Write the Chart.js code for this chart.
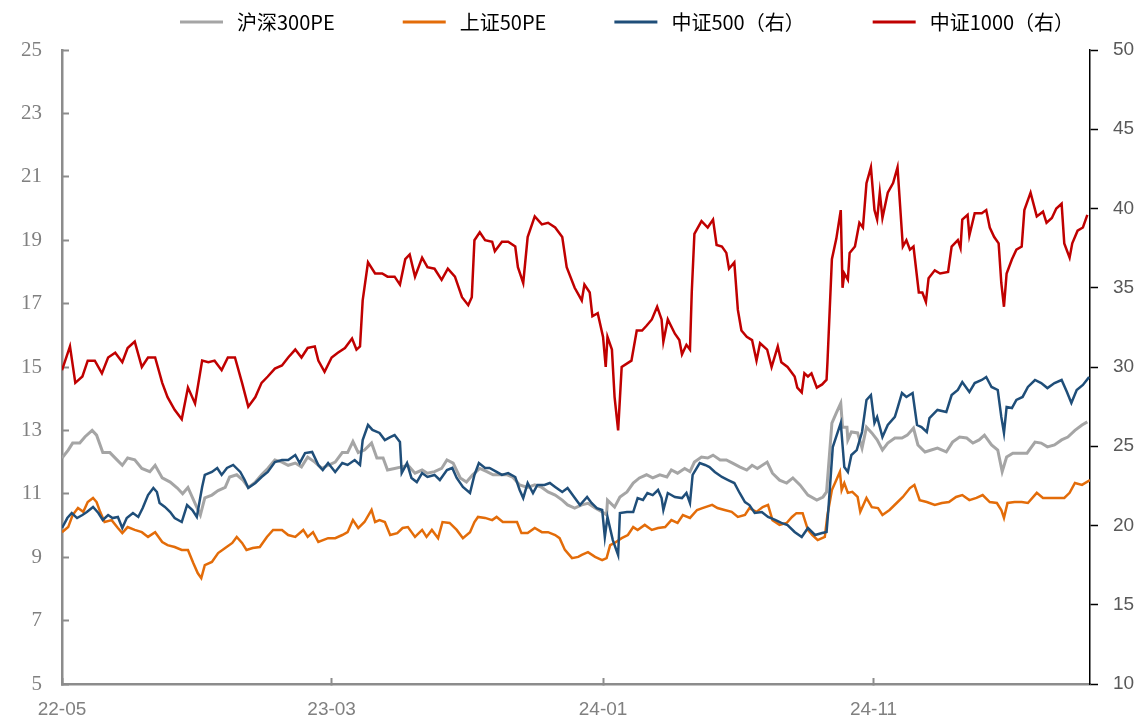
<!DOCTYPE html>
<html>
<head>
<meta charset="utf-8">
<title>PE</title>
<script src="https://cdn.jsdelivr.net/npm/chart.js@4.4.1/dist/chart.umd.min.js"></script>
<style>
  html, body { margin: 0; padding: 0; background: #fff; overflow: hidden; }
  #wrap { width: 1140px; height: 718px; }
  canvas { display: block; }
</style>
</head>
<body>
<div id="wrap"><canvas id="peChart" width="1140" height="718"></canvas></div>
<script>
// x values are days since 2022-05-01
const tickDays = [0, 304, 610, 915];
const tickLabels = ['22-05', '23-03', '24-01', '24-11'];

const seriesNames = ['沪深300PE', '上证50PE', '中证500（右）', '中证1000（右）'];

const hs300Day = [0,7,12,20,26,34,39,46,54,62,68,74,82,90,99,105,113,122,130,136,142,150,156,161,169,176,184,189,197,204,210,218,225,232,240,248,255,263,270,277,285,293,300,308,316,322,328,334,341,349,355,362,367,375,383,390,398,406,412,420,428,434,441,449,456,463,471,479,486,494,502,508,516,525,533,541,548,556,564,570,578,586,593,601,609,614,615,623,629,637,644,651,659,666,674,682,687,694,702,708,713,721,728,734,742,749,756,764,772,778,784,795,801,809,817,824,832,841,851,858,862,868,873,878,880,885,886,890,897,902,907,913,919,925,931,939,947,953,960,965,973,980,987,997,1004,1012,1020,1027,1034,1040,1048,1055,1060,1065,1072,1080,1088,1097,1104,1111,1119,1127,1134,1142,1150,1156];
const hs300PE = [12.13,12.38,12.6,12.6,12.8,13.0,12.85,12.3,12.3,12.07,11.9,12.13,12.07,11.8,11.7,11.9,11.5,11.37,11.18,11.0,11.2,10.7,10.33,10.87,10.96,11.1,11.2,11.53,11.6,11.43,11.2,11.37,11.6,11.8,12.07,12.0,11.9,11.97,11.85,12.16,12.0,11.8,11.9,12.0,12.3,12.3,12.65,12.3,12.38,12.6,12.13,12.13,11.75,11.8,11.85,11.9,11.65,11.75,11.65,11.7,11.8,12.07,11.97,11.5,11.37,11.6,11.8,11.7,11.6,11.6,11.6,11.53,11.28,11.2,11.28,11.2,11.06,10.96,10.8,10.65,10.55,10.65,10.7,10.55,10.43,10.33,10.8,10.58,10.9,11.06,11.34,11.5,11.6,11.5,11.6,11.53,11.75,11.65,11.8,11.7,12.0,12.16,12.13,12.22,12.07,12.07,11.97,11.85,11.75,11.9,11.8,12.0,11.65,11.43,11.34,11.5,11.28,10.96,10.8,10.9,11.06,13.23,13.55,13.86,13.1,13.1,12.7,12.95,12.92,12.44,13.1,12.92,12.7,12.38,12.6,12.76,12.76,12.85,13.07,12.54,12.32,12.38,12.44,12.32,12.63,12.79,12.76,12.6,12.7,12.85,12.54,12.38,11.7,12.16,12.28,12.28,12.28,12.63,12.6,12.48,12.54,12.7,12.79,13.0,13.17,13.27];

const sz50Day = [0,7,12,18,24,29,35,39,43,48,56,63,68,74,82,90,97,105,113,119,127,135,142,148,153,157,161,169,176,184,192,197,203,208,215,223,231,238,248,255,263,272,277,283,289,300,308,316,322,328,334,341,349,353,358,364,370,378,384,390,398,406,411,417,424,429,437,445,452,460,465,469,477,485,490,497,505,513,518,525,533,541,548,556,561,567,575,582,586,593,601,609,614,618,623,631,638,644,649,657,665,672,680,687,694,700,708,716,722,733,739,747,755,762,770,775,783,790,796,801,809,817,823,828,835,841,846,852,860,863,868,877,879,882,886,891,897,900,907,913,920,925,933,941,948,956,961,967,975,984,992,1000,1008,1015,1023,1031,1038,1046,1054,1059,1062,1066,1074,1082,1089,1099,1106,1113,1122,1130,1136,1142,1150,1159];
const sz50PE = [9.79,9.95,10.33,10.55,10.43,10.74,10.87,10.74,10.43,10.11,10.17,9.92,9.76,9.95,9.86,9.79,9.64,9.79,9.48,9.38,9.32,9.23,9.23,8.82,8.5,8.34,8.75,8.85,9.13,9.29,9.45,9.64,9.45,9.23,9.29,9.32,9.64,9.86,9.86,9.7,9.64,9.86,9.64,9.79,9.48,9.6,9.6,9.7,9.79,10.17,9.92,10.11,10.49,10.11,10.17,10.11,9.7,9.76,9.92,9.95,9.64,9.86,9.64,9.86,9.6,10.11,10.08,9.86,9.6,9.79,10.11,10.27,10.24,10.17,10.27,10.11,10.11,10.11,9.76,9.76,9.92,9.79,9.79,9.7,9.6,9.23,8.97,9.01,9.07,9.16,9.01,8.91,8.97,9.38,9.45,9.6,9.7,9.95,9.86,10.02,9.86,9.92,9.95,10.17,10.08,10.33,10.24,10.49,10.55,10.65,10.55,10.49,10.43,10.27,10.33,10.55,10.43,10.58,10.65,10.17,10.02,10.08,10.27,10.39,10.39,9.86,9.7,9.54,9.64,10.33,11.12,11.69,11.12,11.34,11.03,11.06,10.9,10.43,10.87,10.58,10.55,10.33,10.49,10.71,10.9,11.18,11.28,10.8,10.74,10.65,10.71,10.74,10.9,10.96,10.8,10.87,10.96,10.74,10.71,10.49,10.24,10.71,10.74,10.74,10.71,11.03,10.87,10.87,10.87,10.87,11.03,11.34,11.28,11.43];

const zz500Day = [0,6,11,17,23,28,35,41,46,52,57,63,68,73,80,86,91,97,103,107,110,116,122,127,135,141,147,152,158,161,169,175,180,186,193,201,206,210,218,225,232,240,248,255,263,268,274,282,289,294,300,308,316,322,330,336,339,345,350,358,364,370,375,381,383,389,394,400,406,412,420,426,434,440,445,452,460,465,470,477,482,490,496,503,511,516,520,525,531,536,544,550,556,564,570,578,584,592,597,603,609,612,615,621,627,629,637,644,649,655,660,666,672,676,678,683,691,699,704,708,711,719,725,730,736,744,751,758,764,770,775,781,789,796,804,811,818,826,834,841,849,857,862,864,869,878,882,886,890,896,902,907,912,916,919,925,931,939,942,947,952,959,964,969,975,978,987,997,1003,1010,1015,1023,1029,1037,1042,1048,1055,1059,1062,1065,1071,1076,1083,1089,1097,1104,1111,1119,1127,1133,1138,1144,1151,1158];
const zz500PE = [19.84,20.47,20.79,20.47,20.66,20.85,21.17,20.79,20.35,20.66,20.47,20.54,19.84,20.47,20.79,20.54,21.1,21.92,22.37,22.11,21.42,21.17,20.85,20.47,20.22,21.29,20.98,20.54,22.43,23.19,23.38,23.63,23.19,23.63,23.82,23.38,22.87,22.37,22.68,23.06,23.38,24.0,24.13,24.13,24.45,23.94,24.57,24.64,23.82,23.5,23.94,23.38,23.94,23.82,24.13,23.82,25.39,26.34,26.03,25.84,25.39,25.58,25.71,25.27,23.31,23.94,23.0,22.74,23.31,23.06,23.19,22.87,23.5,23.63,23.0,22.43,22.05,23.19,23.94,23.63,23.63,23.38,23.19,23.31,23.06,22.24,21.73,22.68,22.05,22.56,22.56,22.68,22.43,22.11,22.37,21.75,21.29,21.8,21.42,21.1,20.98,19.27,20.54,19.08,18.14,20.79,20.85,20.85,21.73,21.61,22.05,21.92,22.24,21.73,20.98,22.05,21.8,21.73,22.05,21.42,23.19,23.94,23.82,23.69,23.38,23.06,22.87,22.68,22.05,21.48,21.29,20.79,20.85,20.54,20.35,20.16,20.03,19.59,19.27,19.84,19.4,19.53,19.59,20.98,24.95,26.47,23.69,23.38,24.45,24.76,25.9,27.92,28.23,26.47,26.85,25.58,26.34,26.85,27.41,28.36,28.11,28.36,26.34,26.21,25.9,26.78,27.29,27.16,28.23,28.55,29.05,28.42,28.99,29.18,29.37,28.74,28.55,26.85,25.84,27.48,27.41,27.92,28.11,28.74,29.18,28.99,28.67,28.99,29.18,28.42,27.73,28.55,28.87,29.37];

const zz1000Day = [0,9,15,23,29,37,45,52,60,68,74,82,90,97,105,113,119,127,135,142,150,158,165,172,180,187,195,203,210,218,225,232,240,248,255,263,270,277,285,289,296,304,311,319,327,332,336,339,345,353,361,367,375,381,387,392,398,406,412,420,428,435,443,451,458,462,465,471,477,485,488,496,503,511,514,520,525,533,541,548,556,564,569,578,586,589,595,598,604,610,613,615,620,623,627,631,642,648,654,659,665,671,676,678,683,691,696,699,704,708,710,713,721,728,734,738,744,749,752,758,762,766,772,778,783,787,795,800,807,811,818,826,829,834,837,841,845,851,857,862,863,868,873,878,880,882,886,888,894,899,903,907,912,916,919,922,925,931,937,942,948,952,956,960,966,970,974,977,984,990,999,1003,1010,1013,1015,1021,1023,1029,1037,1042,1046,1051,1056,1059,1062,1065,1071,1076,1082,1085,1092,1099,1106,1110,1116,1121,1127,1130,1136,1139,1145,1151,1156];
const zz1000PE = [29.8,31.3,29.0,29.4,30.4,30.4,29.6,30.6,30.9,30.3,31.2,31.6,30.0,30.6,30.6,29.0,28.1,27.3,26.7,28.7,27.7,30.4,30.3,30.4,29.8,30.6,30.6,29.0,27.5,28.1,29.0,29.4,29.9,30.1,30.6,31.1,30.6,31.2,31.3,30.4,29.7,30.6,30.9,31.2,31.8,31.1,31.3,34.2,36.6,35.9,35.9,35.7,35.7,35.2,36.8,37.1,35.7,36.9,36.3,36.2,35.5,36.2,35.7,34.4,33.9,34.4,38.0,38.5,38.0,37.9,37.3,37.9,37.9,37.6,36.3,35.3,38.2,39.5,39.0,39.1,38.8,38.2,36.3,35.0,34.2,35.2,34.7,33.2,33.4,31.9,30.0,31.9,31.1,28.1,26.0,30.0,30.4,32.3,32.3,32.6,33.0,33.8,33.0,31.6,33.0,32.1,31.7,30.8,31.4,31.1,34.7,38.4,39.2,38.8,39.3,37.7,37.6,37.2,36.2,36.6,33.6,32.3,31.9,31.7,30.4,31.5,31.1,30.0,31.3,30.3,30.0,29.4,28.7,28.4,29.6,29.4,29.6,28.7,28.9,29.2,30.3,36.8,38.1,39.9,35.0,35.9,35.5,37.2,37.6,39.1,38.8,41.6,42.6,39.9,39.3,41.0,39.4,41.0,41.6,42.6,37.6,38.0,37.4,37.6,34.7,34.7,34.1,35.6,36.1,35.9,36.0,37.6,38.0,37.5,39.3,39.6,38.3,39.7,39.7,39.9,38.8,38.2,37.8,35.3,33.8,35.9,36.8,37.4,37.6,39.9,41.0,39.5,39.8,39.1,39.4,40.0,40.3,37.8,36.9,37.8,38.6,38.8,39.6];

const seriesColors = ['#A5A5A5', '#E36C09', '#1F4E79', '#C00000'];

function toPoints(days, values) {
  return days.map((d, i) => ({ x: d, y: values[i] }));
}

// fixed axis box sizes; tick padding otherwise leaks into the layout padding
function fixBox(size, key) {
  return scale => {
    scale[key] = size;
    scale.paddingTop = 0;
    scale.paddingBottom = 0;
    scale.paddingLeft = 0;
    scale.paddingRight = 0;
  };
}

// legend drawn by hand: Chart.js legend padding also pushes the plot down
const topLegend = {
  id: 'topLegend',
  afterDraw(chart) {
    const ctx = chart.ctx;
    const y = 22;
    let x = 180;
    ctx.save();
    ctx.font = '20px "Noto Sans CJK SC", sans-serif';
    ctx.textBaseline = 'middle';
    chart.data.datasets.forEach(ds => {
      ctx.strokeStyle = ds.borderColor;
      ctx.lineWidth = 3;
      ctx.beginPath();
      ctx.moveTo(x, y);
      ctx.lineTo(x + 43, y);
      ctx.stroke();
      x += 43 + 14;
      ctx.fillStyle = '#000';
      ctx.fillText(ds.label, x, y);
      x += ctx.measureText(ds.label).width + 68;
    });
    ctx.restore();
  }
};

document.addEventListener('DOMContentLoaded', function() {
  const canvas = document.getElementById('peChart');
  if (!canvas || typeof Chart === 'undefined') {
    console.warn('Chart not initialized');
    return;
  }

  const lineDefaults = { pointRadius: 0, borderWidth: 2.5, tension: 0, fill: false };

  new Chart(canvas, {
    type: 'line',
    data: {
      datasets: [
        { ...lineDefaults, label: seriesNames[0], data: toPoints(hs300Day, hs300PE), borderColor: seriesColors[0], yAxisID: 'y', order: 4, borderWidth: 3 },
        { ...lineDefaults, label: seriesNames[1], data: toPoints(sz50Day, sz50PE), borderColor: seriesColors[1], yAxisID: 'y', order: 3 },
        { ...lineDefaults, label: seriesNames[2], data: toPoints(zz500Day, zz500PE), borderColor: seriesColors[2], yAxisID: 'y1', order: 2 },
        { ...lineDefaults, label: seriesNames[3], data: toPoints(zz1000Day, zz1000PE), borderColor: seriesColors[3], yAxisID: 'y1', order: 1 }
      ]
    },
    options: {
      responsive: false,
      animation: false,
      layout: { padding: { top: 50, left: 0, right: 0, bottom: 0 } },
      plugins: { legend: { display: false }, tooltip: { enabled: false } },
      scales: {
        x: {
          type: 'linear',
          min: 0,
          max: 1159,
          afterBuildTicks: scale => { scale.ticks = tickDays.map(v => ({ value: v })); },
          afterFit: fixBox(34, 'height'),
          grid: { drawOnChartArea: false, drawTicks: true, tickLength: -6, tickWidth: 2, color: '#8C8C8C' },
          border: { color: '#8C8C8C', width: 2.5 },
          ticks: {
            autoSkip: false,
            maxRotation: 0,
            padding: 20,
            color: '#808080',
            font: { family: '"Liberation Sans", Arial, sans-serif', size: 19 },
            callback: v => tickLabels[tickDays.indexOf(v)]
          }
        },
        y: {
          position: 'left',
          min: 5,
          max: 25,
          afterFit: fixBox(62, 'width'),
          grid: { drawOnChartArea: false, drawTicks: true, tickLength: -7, tickWidth: 2, color: '#8C8C8C' },
          border: { color: '#8C8C8C', width: 2.5 },
          ticks: {
            stepSize: 2,
            padding: 27,
            color: '#808080',
            font: { family: '"Liberation Serif", "Times New Roman", serif', size: 21 }
          }
        },
        y1: {
          position: 'right',
          min: 10,
          max: 50,
          afterFit: fixBox(50, 'width'),
          grid: { drawOnChartArea: false, drawTicks: true, tickLength: 8, tickWidth: 1.5, color: '#000' },
          border: { color: '#000', width: 1.5 },
          ticks: {
            stepSize: 5,
            padding: 15,
            color: '#595959',
            font: { family: '"Liberation Sans", Arial, sans-serif', size: 19 }
          }
        }
      }
    },
    plugins: [topLegend]
  });
});
</script>
</body>
</html>
